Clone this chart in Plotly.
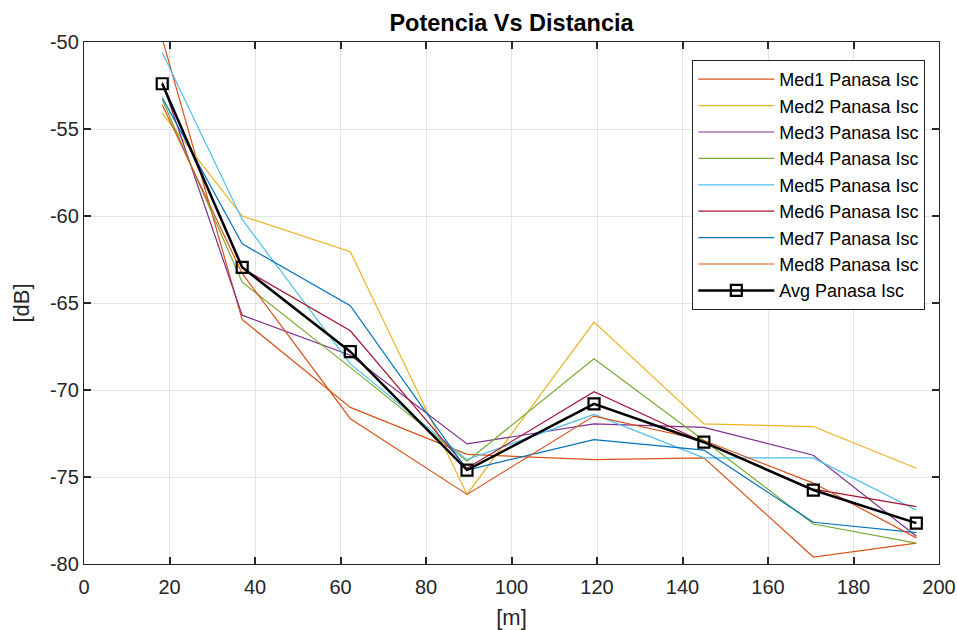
import plotly.graph_objects as go

distance = [18.3, 37.0, 62.3, 89.6, 119.3, 145.0, 170.6, 194.7]

med1 = [-49.8, -65.95, -71.0, -73.7, -74.0, -73.9, -79.6, -78.8]
med2 = [-54.1, -60.0, -62.05, -76.0, -66.1, -71.95, -72.1, -74.5]
med3 = [-52.3, -65.7, -68.0, -73.1, -71.95, -72.15, -73.75, -78.4]
med4 = [-53.3, -63.8, -68.7, -74.1, -68.2, -72.9, -77.7, -78.8]
med5 = [-50.6, -60.2, -68.5, -74.0, -71.4, -73.9, -73.9, -76.9]
med6 = [-52.4, -63.0, -66.6, -74.5, -70.1, -73.0, -75.7, -76.7]
med7 = [-53.2, -61.6, -65.15, -74.6, -72.85, -73.45, -77.6, -78.2]
med8 = [-53.6, -63.3, -71.65, -76.0, -71.5, -72.9, -75.35, -78.5]
avg = [-52.4, -62.95, -67.8, -74.6, -70.8, -73.0, -75.75, -77.65]

x_ticks = [0, 20, 40, 60, 80, 100, 120, 140, 160, 180, 200]
x_tick_labels = ["0", "20", "40", "60", "80", "100", "120", "140", "160", "180", "200"]
y_ticks = [-80, -75, -70, -65, -60, -55, -50]
y_tick_labels = ["-80", "-75", "-70", "-65", "-60", "-55", "-50"]

series = [
    ("Med1 Panasa Isc", med1, "#D95319"),
    ("Med2 Panasa Isc", med2, "#EDB120"),
    ("Med3 Panasa Isc", med3, "#7E2F8E"),
    ("Med4 Panasa Isc", med4, "#77AC30"),
    ("Med5 Panasa Isc", med5, "#4DBEEE"),
    ("Med6 Panasa Isc", med6, "#A2142F"),
    ("Med7 Panasa Isc", med7, "#0072BD"),
    ("Med8 Panasa Isc", med8, "#D95319"),
]

fig = go.Figure()
for name, vals, color in series:
    fig.add_trace(go.Scatter(x=distance, y=vals, mode="lines", name=name,
                             line=dict(color=color, width=1.2)))
fig.add_trace(go.Scatter(x=distance, y=avg, mode="lines+markers", name="Avg Panasa Isc",
                         line=dict(color="black", width=2.5),
                         marker=dict(symbol="square-open", size=11,
                                     line=dict(color="black", width=2.2))))

font = "Liberation Sans, Arial, sans-serif"
axis_common = dict(showgrid=True, gridcolor="#E3E3E3", gridwidth=1,
                   showline=True, linecolor="#262626", linewidth=1.3,
                   mirror="ticks", ticks="inside", ticklen=7, tickwidth=1.5,
                   tickcolor="#262626", zeroline=False, automargin=False,
                   tickfont=dict(family=font, size=20, color="#262626"))

W, H = 957, 630
fig.update_layout(
    width=W, height=H,
    margin=dict(l=84, r=18, t=42, b=66),
    paper_bgcolor="white", plot_bgcolor="white",
    title=dict(text="<b>Potencia Vs Distancia</b>", xref="paper", x=0.5, xanchor="center",
               yref="container", y=1 - 23 / H, yanchor="middle",
               font=dict(family=font, size=23.5, color="black")),
    xaxis=dict(range=[0, 200], tickvals=x_ticks, ticktext=x_tick_labels,
               ticklabelstandoff=5,
               title=dict(text="[m]", font=dict(family=font, size=22, color="#262626"), standoff=17),
               **axis_common),
    yaxis=dict(range=[-80, -50], tickvals=y_ticks, ticktext=y_tick_labels,
               title=dict(text="[dB]", font=dict(family=font, size=22, color="#262626"), standoff=14),
               **axis_common),
    legend=dict(x=0.984, xanchor="right", y=0.9655, yanchor="top",
                bgcolor="white", bordercolor="#262626", borderwidth=1,
                font=dict(family=font, size=18, color="black"),
                itemwidth=76, tracegroupgap=0),
    showlegend=True,
)

fig.write_html("out.html", config={"displayModeBar": False},
               post_script="document.body.style.margin='0';document.body.style.overflow='hidden';")
